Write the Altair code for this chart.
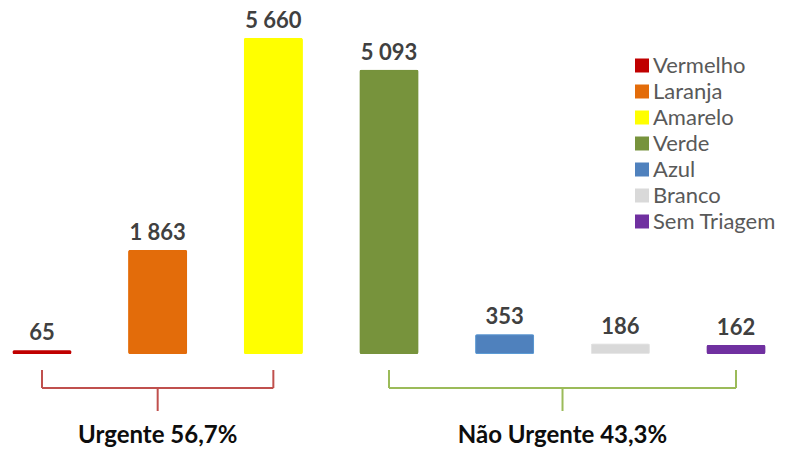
import altair as alt
import pandas as pd

categories = ["Vermelho", "Laranja", "Amarelo", "Verde", "Azul", "Branco", "Sem Triagem"]
values = [65, 1863, 5660, 5093, 353, 186, 162]
fill_colors = ["#C00000", "#E36C0A", "#FFFF00", "#77933C", "#4F81BD", "#D9D9D9", "#7030A0"]
stroke_colors = ["#C00000", "#E36C0A", "#FFFF00", "#77933C", "#5B9BD5", "#E6E6E6", "#7030A0"]

group_labels = ["Urgente 56,7%", "Não Urgente 43,3%"]
group_first = ["Vermelho", "Verde"]
group_last = ["Amarelo", "Sem Triagem"]
group_colors = ["#C0504D", "#9BBB59"]

df = pd.DataFrame({"cat": categories, "value": values, "idx": list(range(len(categories)))})

starts = [categories.index(c) for c in group_first]
ends = [categories.index(c) for c in group_last]
gdf = pd.DataFrame({
    "label": group_labels,
    "start": starts,
    "end": ends,
    "mid": [(s + e) / 2 for s, e in zip(starts, ends)],
    "color": group_colors,
})

FONT = "Lato"
W, H = 770, 440
xscale = alt.Scale(domain=[-0.294, 6.363], nice=False, zero=False, padding=0)
yscale = alt.Scale(domain=[0, 6000], range=[346, 11], nice=False)

base = alt.Chart(df)

bars = base.mark_bar(width=59, strokeWidth=2, cornerRadius=2).encode(
    x=alt.X("idx:Q", scale=xscale, axis=None),
    y=alt.Y("value:Q", scale=yscale, axis=None),
    fill=alt.Fill(
        "cat:N",
        sort=categories,
        scale=alt.Scale(domain=categories, range=fill_colors),
        legend=alt.Legend(
            title=None, orient="none", legendX=623, legendY=46.5,
            symbolType="square", symbolSize=196, symbolStrokeWidth=0,
            labelFont=FONT, labelFontSize=22, labelColor="#595959",
            rowPadding=4, labelOffset=0,
        ),
    ),
    stroke=alt.Stroke("cat:N", scale=alt.Scale(domain=categories, range=stroke_colors), legend=None),
)

labels = base.transform_calculate(
    lab="replace(format(datum.value, ','), ',', ' ')"
).mark_text(
    dy=-17, baseline="middle", align="center", font=FONT, fontSize=22,
    fontWeight="bold", color="#404040",
).encode(
    x=alt.X("idx:Q", scale=xscale, axis=None),
    y=alt.Y("value:Q", scale=yscale, axis=None),
    text="lab:N",
)

gbase = alt.Chart(gdf)
color_enc = alt.Color("color:N", scale=None)

horiz = gbase.mark_rule(strokeWidth=2).encode(
    x=alt.X("start:Q", scale=xscale), x2="end:Q", y=alt.value(380), color=color_enc
)
left_arm = gbase.mark_rule(strokeWidth=2).encode(
    x=alt.X("start:Q", scale=xscale), y=alt.value(362), y2=alt.value(380), color=color_enc
)
right_arm = gbase.mark_rule(strokeWidth=2).encode(
    x=alt.X("end:Q", scale=xscale), y=alt.value(362), y2=alt.value(380), color=color_enc
)
stem = gbase.mark_rule(strokeWidth=2).encode(
    x=alt.X("mid:Q", scale=xscale), y=alt.value(380), y2=alt.value(403), color=color_enc
)
glabels = gbase.mark_text(
    font=FONT, fontSize=24, fontWeight="bold", color="#0D0D0D", baseline="middle", align="center"
).encode(
    x=alt.X("mid:Q", scale=xscale), y=alt.value(428), text="label:N"
)

chart = alt.layer(bars, labels, horiz, left_arm, right_arm, stem, glabels).properties(
    width=W, height=H, autosize=alt.AutoSizeParams(type="none"), padding=0,
).configure_view(stroke=None)

chart.save("out.html", embed_options={"renderer": "svg", "actions": False})
